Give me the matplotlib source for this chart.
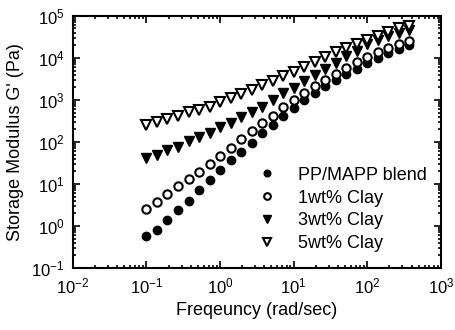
import matplotlib
matplotlib.use('Agg')
import numpy as np
import matplotlib.pyplot as plt

plt.rcParams['font.family'] = ['Liberation Sans', 'DejaVu Sans']
plt.rcParams['mathtext.default'] = 'regular'

# frequency (rad/sec), ~7 points per decade
freq = [0.100, 0.139, 0.193, 0.268, 0.373, 0.518, 0.720, 1.00, 1.39, 1.93,
        2.68, 3.73, 5.18, 7.20, 10.0, 13.9, 19.3, 26.8, 37.3, 51.8,
        72.0, 100, 139, 193, 268, 373]

# log10 of G' (Pa)
log_blend = [-0.24, -0.10, 0.14, 0.37, 0.60, 0.86, 1.10, 1.33, 1.57, 1.77,
             1.97, 2.21, 2.41, 2.62, 2.81, 3.00, 3.16, 3.34, 3.48, 3.62,
             3.74, 3.87, 4.00, 4.11, 4.22, 4.31]
log_clay1 = [0.40, 0.58, 0.76, 0.94, 1.11, 1.29, 1.48, 1.67, 1.86, 2.07,
             2.25, 2.44, 2.62, 2.83, 3.00, 3.17, 3.33, 3.48, 3.62, 3.76,
             3.90, 4.02, 4.13, 4.23, 4.32, 4.40]
log_clay3 = [1.61, 1.69, 1.81, 1.89, 2.01, 2.11, 2.21, 2.35, 2.46, 2.60,
             2.72, 2.84, 3.00, 3.16, 3.28, 3.44, 3.59, 3.74, 3.87, 4.04,
             4.17, 4.32, 4.43, 4.51, 4.59, 4.67]
log_clay5 = [2.40, 2.48, 2.55, 2.62, 2.70, 2.76, 2.84, 2.94, 3.04, 3.13,
             3.24, 3.35, 3.45, 3.56, 3.67, 3.79, 3.91, 4.03, 4.13, 4.24,
             4.33, 4.43, 4.53, 4.61, 4.70, 4.75]

labels = ['PP/MAPP blend', '1wt% Clay', '3wt% Clay', '5wt% Clay']

fig = plt.figure(figsize=(4.55, 3.3), dpi=100)
ax = fig.add_axes([0.160, 0.188, 0.809, 0.764])

ax.plot(freq, 10 ** np.array(log_blend), 'o', color='black', ms=6, label=labels[0])
ax.plot(freq, 10 ** np.array(log_clay1), 'o', mfc='white', mec='black', mew=1.5, ms=6, label=labels[1])
ax.plot(freq, 10 ** np.array(log_clay3), 'v', color='black', ms=6.5, label=labels[2])
ax.plot(freq, 10 ** np.array(log_clay5), 'v', mfc='white', mec='black', mew=1.5, ms=6.5, label=labels[3])

ax.set_xscale('log')
ax.set_yscale('log')
ax.set_xlim(1e-2, 1e3)
ax.set_ylim(1e-1, 1e5)

ax.tick_params(which='both', direction='in', top=True, right=True, labelsize=12, width=1.2)
ax.tick_params(which='major', length=5, pad=6)
ax.tick_params(which='minor', length=2.5)
for s in ax.spines.values():
    s.set_linewidth(1.5)

ax.set_xlabel('Freqeuncy (rad/sec)', fontsize=13, labelpad=4)
ax.set_ylabel("Storage Modulus G' (Pa)", fontsize=13, labelpad=5)

ax.legend(loc='center left', bbox_to_anchor=(0.484, 0.232), frameon=False,
          fontsize=13, handlelength=1.0, handletextpad=1.2,
          labelspacing=0.32, markerscale=0.8, borderaxespad=0)

fig.savefig('out.png', dpi=100)
